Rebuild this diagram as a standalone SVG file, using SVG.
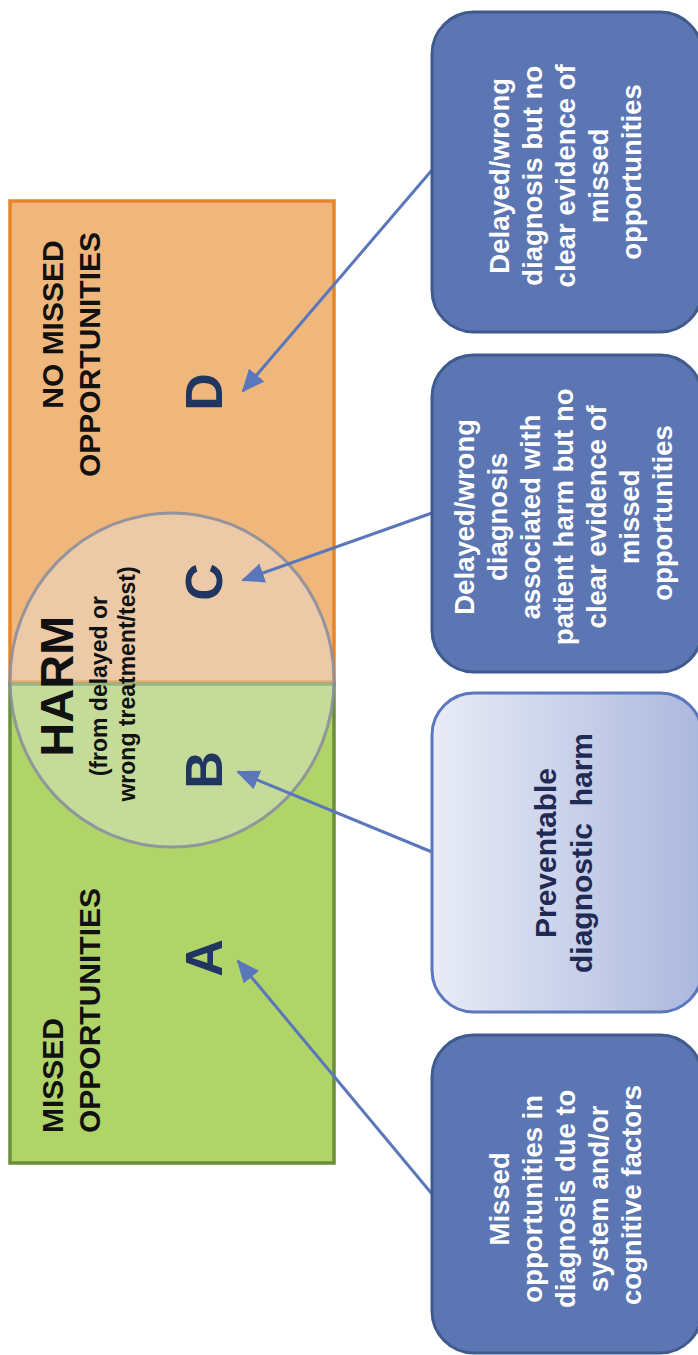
<svg xmlns="http://www.w3.org/2000/svg" width="698" height="1355" viewBox="0 0 698 1355">
  <style>
    text { font-family: "Liberation Sans", Arial, sans-serif; font-weight: bold; }
    .head { font-size: 30px; fill: #111111; }
    .letter { font-size: 52px; fill: #203560; text-anchor: middle; }
    .box { fill: #5B76B3; stroke: #3F5A8E; stroke-width: 3; }
    .boxtext { font-size: 27.5px; fill: #FFFFFF; text-anchor: middle; }
    .conn { stroke: #5B77BC; stroke-width: 3; fill: none; marker-end: url(#arrow); }
  </style>
  <defs>
    <marker id="arrow" markerUnits="userSpaceOnUse" markerWidth="26" markerHeight="22" refX="21" refY="10" orient="auto">
      <path d="M0,0 L23,10 L0,20 Z" fill="#5B77BC"/>
    </marker>
    <linearGradient id="lightGrad" x1="0" y1="0" x2="1" y2="0">
      <stop offset="0" stop-color="#E9ECF7"/>
      <stop offset="1" stop-color="#ABB7DD"/>
    </linearGradient>
  </defs>

  <g id="region-no-missed">
    <rect x="10" y="201" width="324" height="481" fill="#F0B77D" stroke="#E6852A" stroke-width="3.5"/>
    <text class="head" transform="translate(0,232) rotate(-90)" text-anchor="end">
      <tspan x="0" y="63">NO MISSED</tspan>
      <tspan x="0" y="100">OPPORTUNITIES</tspan>
    </text>
  </g>

  <g id="region-missed">
    <rect x="10" y="684" width="324" height="479" fill="#B0D468" stroke="#6A8F3B" stroke-width="3.5"/>
    <text class="head" transform="translate(0,1133) rotate(-90)" text-anchor="start">
      <tspan x="0" y="63">MISSED</tspan>
      <tspan x="0" y="100">OPPORTUNITIES</tspan>
    </text>
  </g>

  <g id="harm-circle">
    <ellipse cx="172" cy="680" rx="162" ry="167" fill="#E6E6E6" fill-opacity="0.4" stroke="#8B8F9C" stroke-width="3" stroke-opacity="0.9"/>
    <text transform="translate(0,684) rotate(-90)" text-anchor="middle" fill="#111111">
      <tspan x="0" y="73" font-size="47">HARM</tspan>
      <tspan x="0" y="107" font-size="23">(from delayed or</tspan>
      <tspan x="0" y="135" font-size="23">wrong treatment/test)</tspan>
    </text>
  </g>

  <g id="letters">
    <text class="letter" transform="translate(222,392) rotate(-90)">D</text>
    <text class="letter" transform="translate(222,582) rotate(-90)">C</text>
    <text class="letter" transform="translate(222,770) rotate(-90)">B</text>
    <text class="letter" transform="translate(222,958) rotate(-90)">A</text>
  </g>

  <g id="connectors">
    <line class="conn" x1="432" y1="170" x2="243" y2="391"/>
    <line class="conn" x1="432" y1="513" x2="243" y2="580"/>
    <line class="conn" x1="432" y1="852" x2="238" y2="772"/>
    <line class="conn" x1="432" y1="1194" x2="238" y2="961"/>
  </g>

  <g id="box-d">
    <rect class="box" x="432" y="12" width="270" height="320" rx="42" ry="42"/>
    <text class="boxtext" transform="translate(0,172) rotate(-90)">
      <tspan x="0" y="509">Delayed/wrong</tspan>
      <tspan x="0" y="542">diagnosis but no</tspan>
      <tspan x="0" y="575">clear evidence of</tspan>
      <tspan x="0" y="608">missed</tspan>
      <tspan x="0" y="641">opportunities</tspan>
    </text>
  </g>

  <g id="box-c">
    <rect class="box" x="432" y="355" width="270" height="317" rx="42" ry="42"/>
    <text class="boxtext" transform="translate(0,513) rotate(-90)">
      <tspan x="0" y="474">Delayed/wrong</tspan>
      <tspan x="0" y="507">diagnosis</tspan>
      <tspan x="0" y="540">associated with</tspan>
      <tspan x="0" y="573">patient harm but no</tspan>
      <tspan x="0" y="606">clear evidence of</tspan>
      <tspan x="0" y="639">missed</tspan>
      <tspan x="0" y="672">opportunities</tspan>
    </text>
  </g>

  <g id="box-b">
    <rect x="432" y="693" width="270" height="319" rx="42" ry="42" fill="url(#lightGrad)" stroke="#5B77BE" stroke-width="3"/>
    <text transform="translate(0,853) rotate(-90)" text-anchor="middle" font-size="30" fill="#1F2A55" xml:space="preserve"><tspan x="0" y="556">Preventable</tspan><tspan x="0" y="592">diagnostic  harm</tspan></text>
  </g>

  <g id="box-a">
    <rect class="box" x="432" y="1035" width="270" height="318" rx="42" ry="42"/>
    <text class="boxtext" transform="translate(0,1195) rotate(-90)">
      <tspan x="0" y="509">Missed</tspan>
      <tspan x="0" y="542">opportunities in</tspan>
      <tspan x="0" y="575">diagnosis due to</tspan>
      <tspan x="0" y="608">system and/or</tspan>
      <tspan x="0" y="641">cognitive factors</tspan>
    </text>
  </g>
</svg>
